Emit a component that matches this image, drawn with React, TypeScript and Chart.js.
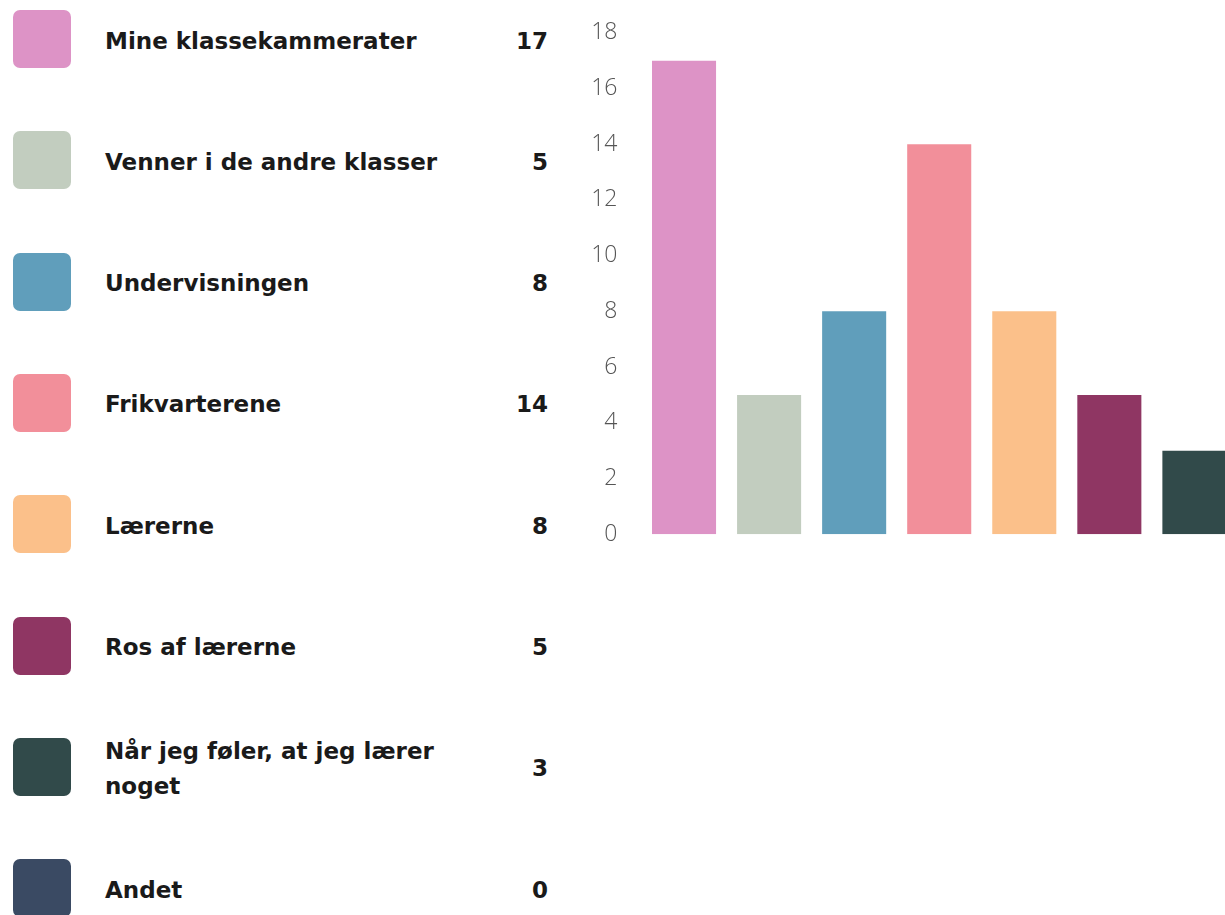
import React, { useEffect, useRef } from "react";
import { Chart, registerables } from "chart.js";

Chart.register(...registerables);

const categories = [
  "Mine klassekammerater",
  "Venner i de andre klasser",
  "Undervisningen",
  "Frikvarterene",
  "Lærerne",
  "Ros af lærerne",
  "Når jeg føler, at jeg lærer noget",
  "Andet",
];
const legendLines = [
  ["Mine klassekammerater"],
  ["Venner i de andre klasser"],
  ["Undervisningen"],
  ["Frikvarterene"],
  ["Lærerne"],
  ["Ros af lærerne"],
  ["Når jeg føler, at jeg lærer", "noget"],
  ["Andet"],
];
const values = [17, 5, 8, 14, 8, 5, 3, 0];
const colors = [
  "#DD93C6",
  "#C2CDBF",
  "#609EBB",
  "#F28F9A",
  "#FBC08A",
  "#8F3663",
  "#314A4A",
  "#3A4A63",
];
const yMax = 18;
const yStep = 2;

export default function App() {
  const ref = useRef<HTMLCanvasElement | null>(null);
  useEffect(() => {
    if (!ref.current) return;
    const chart = new Chart(ref.current, {
      type: "bar",
      data: {
        labels: categories,
        datasets: [
          {
            data: values,
            backgroundColor: colors,
            borderWidth: 0,
            categoryPercentage: 1,
            barPercentage: 0.753,
          },
        ],
      },
      options: {
        animation: false,
        responsive: false,
        maintainAspectRatio: false,
        layout: { padding: { top: 0, bottom: 0, left: 0, right: 0 } },
        plugins: { legend: { display: false }, tooltip: { enabled: false } },
        scales: {
          x: { display: false },
          y: {
            min: 0,
            max: yMax,
            border: { display: false },
            grid: { display: false, drawTicks: false },
            ticks: {
              stepSize: yStep,
              padding: 24,
              color: "#555",
              font: { family: "'Open Sans'", size: 23, weight: "300" },
            },
            afterFit: (s: any) => {
              s.width = 81.5;
            },
          },
        },
      },
    });
    return () => chart.destroy();
  }, []);

  const rowStart = 39;
  const rowStep = 121.3;

  return (
    <div
      style={{
        position: "fixed",
        left: 0,
        top: 0,
        width: 1225,
        height: 915,
        overflow: "hidden",
        background: "#fff",
      }}
    >
      {legendLines.map((lines, i) => {
        const cy = rowStart + i * rowStep;
        return (
          <React.Fragment key={i}>
            <div
              style={{
                position: "absolute",
                left: 13,
                top: cy - 29,
                width: 58,
                height: 58,
                borderRadius: 7,
                background: colors[i],
              }}
            />
            <div
              style={{
                position: "absolute",
                left: 105,
                top: cy - (lines.length * 35) / 2 + 2,
                fontFamily: "'DejaVu Sans'",
                fontWeight: "bold",
                fontSize: 23,
                lineHeight: "35px",
                color: "#1a1a1a",
                whiteSpace: "nowrap",
              }}
            >
              {lines.map((l, j) => (
                <div key={j}>{l}</div>
              ))}
            </div>
            <div
              style={{
                position: "absolute",
                left: 480,
                width: 68,
                top: cy - 17.5 + 2,
                textAlign: "right",
                fontFamily: "'DejaVu Sans'",
                fontWeight: "bold",
                fontSize: 23,
                lineHeight: "35px",
                color: "#1a1a1a",
              }}
            >
              {values[i]}
            </div>
          </React.Fragment>
        );
      })}
      <canvas
        ref={ref}
        width={762}
        height={577}
        style={{ position: "absolute", left: 560, top: -5, width: 762, height: 577 }}
      />
    </div>
  );
}
